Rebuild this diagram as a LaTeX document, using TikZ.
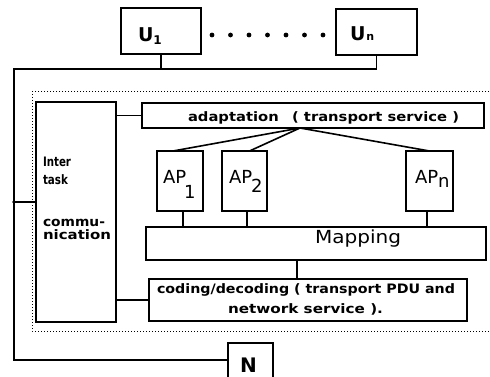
\documentclass[tikz,border=0pt]{standalone}
\usepackage{fontspec}
\setmainfont{DejaVu Sans}
\usetikzlibrary{calc}

% fixed-width text line: natural height, stretched to the given width
\newcommand{\fitline}[2]{\resizebox{#1}{\height}{#2}}

\begin{document}
\begin{tikzpicture}[x=1pt,y=-1pt,
  box/.style={draw,line width=1.6pt,inner sep=0pt,outer sep=0pt},
  conn/.style={line width=1.6pt},
  lab/.style={inner sep=0pt,outer sep=0pt,anchor=base west},
  boldlab/.style={lab,font=\fontsize{13}{13}\selectfont\bfseries},
  biglab/.style={lab,font=\fontsize{18}{18}\selectfont},
  frame/.style={line width=1pt,dash pattern=on 1pt off 2pt}]

\fill[white] (0,0) rectangle (490,377);
\useasboundingbox (0,0) rectangle (490,377);
\clip (0,0) rectangle (490,377);

% user boxes
\node[box,minimum width=80pt,minimum height=46pt] (U1) at (161,31) {};
\node[box,minimum width=81pt,minimum height=46pt] (Un) at (376.5,32) {};
\node[lab,font=\fontsize{19}{19}\selectfont\bfseries] (tU1) at (138,42)
  {U\raisebox{-3pt}{\fontsize{12}{12}\selectfont 1}};
\node[lab,font=\fontsize{19}{19}\selectfont\bfseries] (tUn) at (350,41)
  {U\hspace{1pt}\raisebox{0pt}{\fontsize{11}{11}\selectfont n}};
\foreach \i in {0,...,6} \fill (212+18.5*\i,35) circle (2.4pt);

% dotted frame of the transport entity
\draw[frame] (492,92) -| (32,331) -- (492,331);

% inter task communication
\node[box,minimum width=80pt,minimum height=220pt] (IT) at (76,212) {};
\node[boldlab] (t1) at (43,166) {\fitline{28pt}{Inter}};
\node[boldlab] (t2) at (43,185) {\fitline{25pt}{task}};
\node[boldlab] (t3) at (43,226) {\fitline{62pt}{commu-}};
\node[boldlab] (t4) at (43,239) {\fitline{68pt}{nication}};

% adaptation layer
\node[box,minimum width=342pt,minimum height=25pt] (adapt) at (313,115.5) {};
\node[boldlab] (tad) at (188,122)
  {\fitline{271pt}{adaptation\hspace{0.9em}( transport service )}};

% application processes
\node[box,minimum width=46pt,minimum height=60pt] (AP1) at (180,181) {};
\node[box,minimum width=45pt,minimum height=60pt] (AP2) at (244.5,181) {};
\node[box,minimum width=47pt,minimum height=60pt] (APn) at (429.5,181) {};
\node[biglab] (tAP1) at (163,183) {AP\hspace{-2pt}\raisebox{-15pt}{1}};
\node[biglab] (tAP2) at (229,183) {AP\hspace{-1pt}\raisebox{-9pt}{2}};
\node[biglab] (tAPn) at (415,183) {AP\raisebox{-4pt}{n}};

% mapping
\node[box,minimum width=340pt,minimum height=33pt] (map) at (316,243.5) {};
\node[biglab] (tmap) at (315,243) {\fitline{86pt}{Mapping}};

% coding / decoding
\node[box,minimum width=318pt,minimum height=42pt] (cod) at (308,300) {};
\node[boldlab] (tc1) at (157,293)
  {\fitline{298pt}{coding/decoding ( transport PDU and}};
\node[boldlab] (tc2) at (228,313)
  {\fitline{155pt}{network service ).}};

% network
\node[box,minimum width=45pt,minimum height=50pt] (N) at (250.5,368) {};
\node[lab,font=\fontsize{20}{20}\selectfont\bfseries] (tN) at (240,372) {N};

% connectors
\coordinate (busT) at (14,69);
\coordinate (busB) at (14,360);
\coordinate (jct) at (14,202);
\draw[conn] (U1.south) -- (U1.south |- busT);
\draw[conn] (Un.south) |- (busT) -- (busB) -- (busB -| N.west);
\draw[conn] (jct) -- (jct -| IT.west);
\fill (jct) circle (1.8pt);
\draw[conn] (adapt.west) -- (adapt.west -| IT.east);
\draw[conn] (cod.west) -- (cod.west -| IT.east);

\coordinate (fan) at ($(adapt.south)+(-13,0)$);
\draw[conn] (fan) -- ($(AP1.north)+(-7,0)$);
\draw[conn] (fan) -- ($(AP2.north)+(5,0)$);
\draw[conn] (fan) -- (APn.north);

\coordinate (m1) at (183,0);
\coordinate (m2) at (247,0);
\coordinate (m3) at (427,0);
\coordinate (m4) at (297,0);
\draw[conn] (m1 |- AP1.south) -- (m1 |- map.north);
\draw[conn] (m2 |- AP2.south) -- (m2 |- map.north);
\draw[conn] (m3 |- APn.south) -- (m3 |- map.north);
\draw[conn] (m4 |- map.south) -- (m4 |- cod.north);
\end{tikzpicture}
\end{document}
